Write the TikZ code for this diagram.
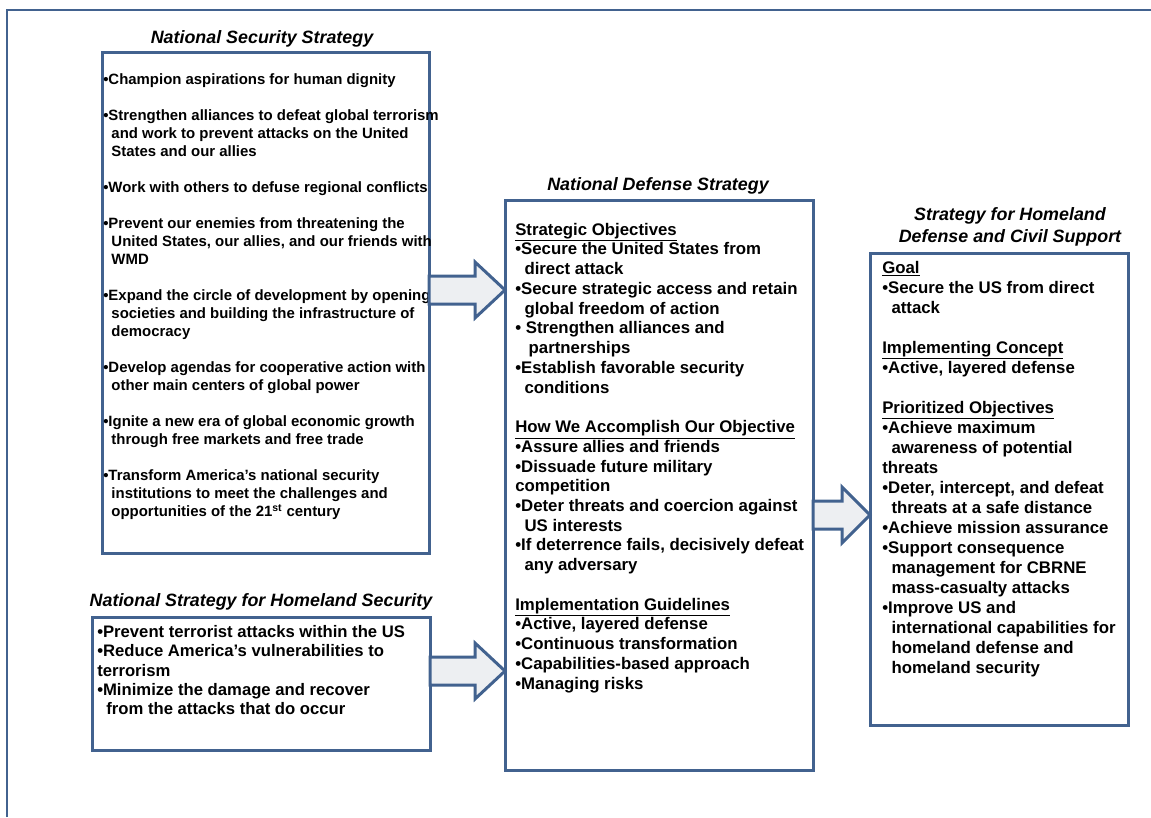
\documentclass[tikz,border=0pt]{standalone}
\usepackage{fontspec}
\setmainfont{Liberation Sans}
\setsansfont{Liberation Sans}
\usepackage{tikz}
\usetikzlibrary{calc,fit}
\definecolor{frameblue}{HTML}{42628F}
\definecolor{arrowgray}{HTML}{EDEFF2}
\newcommand{\cont}{\hspace*{0.55em}}
\newcommand{\bigarrow}[3]{% tail, tip, head length
  \draw[bigarrow] ($(#1)+(0,-14)$) -- ($(#2)+(-#3,-14)$) -- ($(#2)+(-#3,-28)$) -- (#2)
    -- ($(#2)+(-#3,28)$) -- ($(#2)+(-#3,14)$) -- ($(#1)+(0,14)$) -- cycle;}
\tikzset{
  font=\sffamily,
  frame/.style={draw=frameblue, line width=2pt},
  box/.style={draw=frameblue, line width=2.25pt, inner sep=0pt, outer sep=0pt},
  bigarrow/.style={draw=frameblue, fill=arrowgray, line width=2.25pt},
  heading/.style={font=\sffamily\bfseries\itshape\fontsize{13.4}{16.5}\selectfont, align=center, inner sep=0pt},
  items/.style={align=left, inner sep=0pt, anchor=north west},
  nsslist/.style={items, font=\sffamily\bfseries\fontsize{11.2}{13.5}\selectfont},
  hslist/.style={items, font=\sffamily\bfseries\fontsize{12.5}{14.5}\selectfont},
  ndslist/.style={items, font=\sffamily\bfseries\fontsize{12.6}{14.8}\selectfont},
  hdlist/.style={items, font=\sffamily\bfseries\fontsize{12.6}{15}\selectfont}
}
\begin{document}
\begin{tikzpicture}[x=0.75pt,y=-0.75pt]
  \useasboundingbox (0,0) rectangle (1151,817);
  \draw[frame] (7,817) -- (7,10) -- (1151,10);

  % boxes
  \node[box, fit={(102,53) (429,553)}] (nss) {};
  \node[box, fit={(92,617) (430,750)}] (nshs) {};
  \node[box, fit={(505,200) (813,770)}] (nds) {};
  \node[box, fit={(870,253) (1128,725)}] (shd) {};

  % titles
  \node[heading] (nsstitle) at (262,39) {National Security Strategy};
  \node[heading] (nshstitle) at (261,602) {National Strategy for Homeland Security};
  \node[heading] (ndstitle) at (658,186) {National Defense Strategy};
  \node[heading] (shdtitle) at (1010,227) {Strategy for Homeland\\Defense and Civil Support};

  \node[nsslist] (nssitems) at ([shift={(1,20.5)}]nss.north west) {%
    •Champion aspirations for human dignity\\[13.5pt]
    •Strengthen alliances to defeat global terrorism\\
    \cont and work to prevent attacks on the United\\
    \cont States and our allies\\[13.5pt]
    •Work with others to defuse regional conflicts\\[13.5pt]
    •Prevent our enemies from threatening the\\
    \cont United States, our allies, and our friends with\\
    \cont WMD\\[13.5pt]
    •Expand the circle of development by opening\\
    \cont societies and building the infrastructure of\\
    \cont democracy\\[13.5pt]
    •Develop agendas for cooperative action with\\
    \cont other main centers of global power\\[13.5pt]
    •Ignite a new era of global economic growth\\
    \cont through free markets and free trade\\[13.5pt]
    •Transform America’s national security\\
    \cont institutions to meet the challenges and\\
    \cont opportunities of the 21\textsuperscript{st} century};

  \node[hslist] (nshsitems) at ([shift={(5,8)}]nshs.north west) {%
    •Prevent terrorist attacks within the US\\
    •Reduce America’s vulnerabilities to\\
    terrorism\\
    •Minimize the damage and recover\\
    \cont from the attacks that do occur};

  \node[ndslist] (ndsitems) at ([shift={(10,22.8)}]nds.north west) {%
    \underline{Strategic Objectives}\\
    •Secure the United States from\\
    \cont direct attack\\
    •Secure strategic access and retain\\
    \cont global freedom of action\\
    • Strengthen alliances and\\
    \hspace*{0.8em}partnerships\\
    •Establish favorable security\\
    \cont conditions\\[14.8pt]
    \underline{How We Accomplish Our Objective}\\
    •Assure allies and friends\\
    •Dissuade future military\\
    competition\\
    •Deter threats and coercion against\\
    \cont US interests\\
    •If deterrence fails, decisively defeat\\
    \cont any adversary\\[14.8pt]
    \underline{Implementation Guidelines}\\
    •Active, layered defense\\
    •Continuous transformation\\
    •Capabilities-based approach\\
    •Managing risks};

  \node[hdlist] (shditems) at ([shift={(12,7.8)}]shd.north west) {%
    \underline{Goal}\\
    •Secure the US from direct\\
    \cont attack\\[15pt]
    \underline{Implementing Concept}\\
    •Active, layered defense\\[15pt]
    \underline{Prioritized Objectives}\\
    •Achieve maximum\\
    \cont awareness of potential\\
    threats\\
    •Deter, intercept, and defeat\\
    \cont threats at a safe distance\\
    •Achieve mission assurance\\
    •Support consequence\\
    \cont management for CBRNE\\
    \cont mass-casualty attacks\\
    •Improve US and\\
    \cont international capabilities for\\
    \cont homeland defense and\\
    \cont homeland security};

  % block arrows between the strategies
  \bigarrow{nss.east |- 0,290}{nds.west |- 0,290}{30}
  \bigarrow{nshs.east |- 0,671}{nds.west |- 0,671}{30}
  \bigarrow{nds.east |- 0,515}{shd.west |- 0,515}{28}
\end{tikzpicture}
\end{document}
